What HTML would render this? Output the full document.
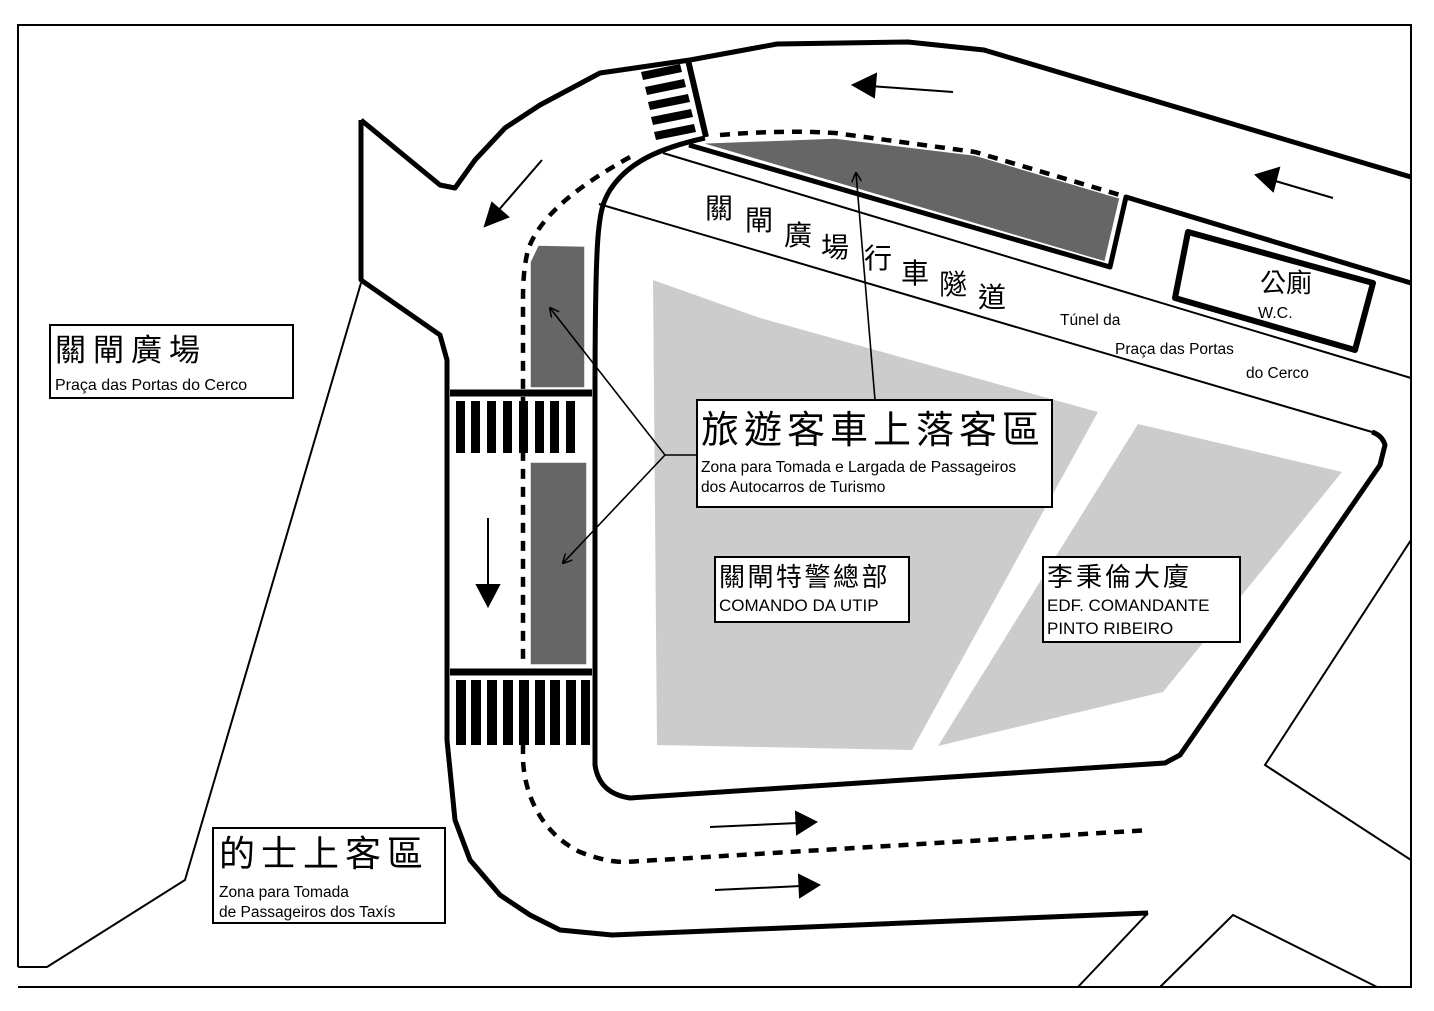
<!DOCTYPE html>
<html><head><meta charset="utf-8"><style>
html,body{margin:0;padding:0;background:#fff;}
svg{display:block;}
text{font-family:"Liberation Sans","Noto Sans CJK TC",sans-serif;fill:#000;}
</style></head><body>
<svg width="1434" height="1011" viewBox="0 0 1434 1011" xmlns="http://www.w3.org/2000/svg">
<defs>
<marker id="ah" markerWidth="10" markerHeight="10" refX="9" refY="5" orient="auto" markerUnits="userSpaceOnUse">
<path d="M0,0 L10,5 L0,10" fill="none" stroke="#000" stroke-width="1.5"/></marker>
</defs>
<rect width="1434" height="1011" fill="#fff"/>
<polyline points="18,967 18,25 1411,25 1411,987 18,987" fill="none" stroke="#000" stroke-width="2"/>
<polyline points="18,967 47,967 185,880 361,283" fill="none" stroke="#000" stroke-width="2"/>
<polygon points="653,280 760,318 1098,412 912,750 657,745" fill="#cccccc"/>
<polygon points="1138,424 1342,472 1163,692 938,746" fill="#cccccc"/>
<polygon points="700,143 835,138 975,155 1120,198 1105,262" fill="#666" stroke="#fff" stroke-width="1.5"/>
<polygon points="538,245 585,246 585,388 530,388 530,262" fill="#666" stroke="#fff" stroke-width="1.5"/>
<rect x="530" y="462" width="57" height="203" fill="#666" stroke="#fff" stroke-width="1.5"/>
<line x1="663" y1="153" x2="1411" y2="378" stroke="#000" stroke-width="2"/>
<line x1="599" y1="204" x2="1372" y2="432" stroke="#000" stroke-width="2"/>
<g fill="none" stroke="#000" stroke-width="5" stroke-linejoin="round">
<polyline points="361,120 440,185 455,188 475,160 505,128 540,105 600,73 690,60 777,44 908,42 984,50 1411,177"/>
<polyline points="361,120 361,280 440,335 447,360 447,740 455,820 470,860 500,895 530,915 560,930 612,935 1148,913"/>
<polyline points="689,145 1110,267 1126,197 1411,283"/>
<path d="M705,138 C660,148 628,162 610,190 C598,210 595,225 595,400 L595,765 C598,785 610,795 630,798 L1165,763 L1180,755 L1380,465 L1385,445 C1383,438 1378,434 1372,432"/>
<polygon points="1188,232 1373,283 1355,350 1175,298" stroke-width="6"/>
</g>
<g fill="none" stroke="#000" stroke-width="2">
<polyline points="1411,540 1265,765 1411,860"/>
<line x1="1148" y1="913" x2="1078" y2="987"/>
<polyline points="1160,987 1233,915 1377,987"/>
</g>
<g fill="none" stroke="#000" stroke-width="4.5" stroke-dasharray="10,8">
<path d="M720,135 C780,130 820,132 835,133 L975,152 L1120,195"/>
<path d="M630,157 C580,185 540,215 528,250 C523,270 523,290 523,300 L523,660"/>
<path d="M523,690 L523,760 C525,800 545,835 580,852 C600,860 615,862 625,862 L1150,830"/>
</g>
<g fill="#000">
<polygon points="641,72 680,64 682,72 643,80"/>
<polygon points="645,87 684,79 686,87 647,95"/>
<polygon points="648,102 688,94 690,102 650,110"/>
<polygon points="651,117 691,109 693,117 653,125"/>
<polygon points="654,132 694,124 696,132 656,140"/>
</g>
<line x1="688" y1="60" x2="706" y2="137" stroke="#000" stroke-width="6"/>
<line x1="450" y1="393" x2="592" y2="393" stroke="#000" stroke-width="7"/>
<line x1="450" y1="672" x2="592" y2="672" stroke="#000" stroke-width="7"/>
<g fill="#000">
<rect x="456" y="401" width="9" height="52"/><rect x="471" y="401" width="9" height="52"/><rect x="487" y="401" width="9" height="52"/><rect x="503" y="401" width="9" height="52"/><rect x="519" y="401" width="9" height="52"/><rect x="535" y="401" width="9" height="52"/><rect x="550" y="401" width="9" height="52"/><rect x="566" y="401" width="9" height="52"/>
<rect x="456" y="680" width="10" height="65"/><rect x="471" y="680" width="10" height="65"/><rect x="487" y="680" width="10" height="65"/><rect x="503" y="680" width="10" height="65"/><rect x="519" y="680" width="10" height="65"/><rect x="535" y="680" width="10" height="65"/><rect x="550" y="680" width="10" height="65"/><rect x="566" y="680" width="10" height="65"/><rect x="581" y="680" width="9" height="65"/>
</g>
<g stroke="#000" stroke-width="2" fill="#000">
<line x1="953" y1="92" x2="870" y2="86"/><polygon points="853,85 876,74 874,97"/>
<line x1="1333" y1="198" x2="1272" y2="180"/><polygon points="1256,175 1279,168 1273,191"/>
<line x1="542" y1="160" x2="497" y2="212"/><polygon points="485,226 492,203 508,217"/>
<line x1="488" y1="518" x2="488" y2="588"/><polygon points="477,585 499,585 488,606"/>
<line x1="710" y1="827" x2="798" y2="823"/><polygon points="816,822 796,812 797,834"/>
<line x1="715" y1="890" x2="801" y2="886"/><polygon points="819,885 799,875 800,897"/>
</g>
<g stroke="#000" stroke-width="1.6" fill="none">
<polyline points="697,455 665,455 550,308" marker-end="url(#ah)"/>
<line x1="665" y1="455" x2="563" y2="563" marker-end="url(#ah)"/>
<line x1="875" y1="400" x2="856" y2="173" marker-end="url(#ah)"/>
</g>
<g fill="#fff" stroke="#000" stroke-width="2">
<rect x="50" y="325" width="243" height="73"/>
<rect x="697" y="400" width="355" height="107"/>
<rect x="715" y="557" width="194" height="65"/>
<rect x="1043" y="557" width="197" height="85"/>
<rect x="213" y="828" width="232" height="95"/>
</g>
<text x="55" y="361" font-size="31" letter-spacing="7">關閘廣場</text>
<text x="55" y="390" font-size="16">Praça das Portas do Cerco</text>
<text x="701" y="443" font-size="38" letter-spacing="5">旅遊客車上落客區</text>
<text x="701" y="472" font-size="15.5">Zona para Tomada e Largada de Passageiros</text>
<text x="701" y="492" font-size="15.5">dos Autocarros de Turismo</text>
<text x="719" y="586" font-size="26" letter-spacing="2.5">關閘特警總部</text>
<text x="719" y="611" font-size="17">COMANDO DA UTIP</text>
<text x="1047" y="586" font-size="26" letter-spacing="3">李秉倫大廈</text>
<text x="1047" y="611" font-size="17">EDF. COMANDANTE</text>
<text x="1047" y="634" font-size="17">PINTO RIBEIRO</text>
<text x="219" y="866" font-size="36" letter-spacing="6">的士上客區</text>
<text x="219" y="897" font-size="15.5">Zona para Tomada</text>
<text x="219" y="917" font-size="15.5">de Passageiros dos Taxís</text>
<text x="1260" y="292" font-size="26">公廁</text>
<text x="1258" y="318" font-size="16">W.C.</text>
<g font-size="28">
<text x="705" y="218">關</text><text x="745" y="230">閘</text><text x="784" y="245">廣</text><text x="821" y="257">場</text>
<text x="864" y="268">行</text><text x="901" y="283">車</text><text x="939" y="294">隧</text><text x="978" y="307">道</text>
</g>
<text x="1060" y="325" font-size="15.5">Túnel da</text>
<text x="1115" y="354" font-size="15.5">Praça das Portas</text>
<text x="1246" y="378" font-size="15.5">do Cerco</text>
</svg>
</body></html>
